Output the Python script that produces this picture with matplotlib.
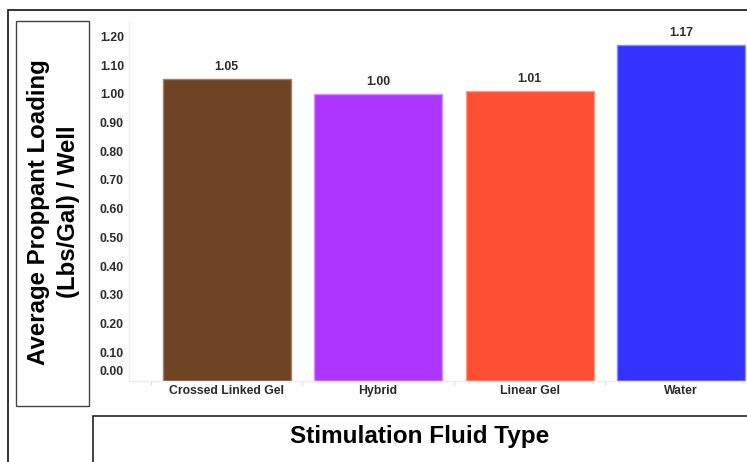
import matplotlib.pyplot as plt
from matplotlib.patches import Rectangle

fluids = ['Crossed Linked Gel', 'Hybrid', 'Linear Gel', 'Water']
loading = [1.05, 1.00, 1.01, 1.17]
colors = ['#6e4424', '#ae34ff', '#ff4f33', '#3333ff']
edges = ['#a88068', '#d490ff', '#ff9a88', '#8888ff']
yticks = [0.0, 0.1, 0.2, 0.3, 0.4, 0.5, 0.6, 0.7, 0.8, 0.9, 1.0, 1.1, 1.2]

plt.rcParams['font.family'] = ['Liberation Sans', 'DejaVu Sans']

W, H = 747, 462
fig = plt.figure(figsize=(W / 100, H / 100), dpi=100)


def px(x0, y0, x1, y1):
    # pixel box (top-left origin) -> figure fraction rect
    return [x0 / W, 1 - y1 / H, (x1 - x0) / W, (y1 - y0) / H]


ax = fig.add_axes(px(129, 22, 747, 381))
x = range(len(fluids))
ax.bar(x, loading, width=0.845, color=colors, edgecolor=edges, linewidth=1)

for i, v in enumerate(loading):
    ax.annotate(f'{v:.2f}', xy=(i, v), xytext=(0, 8.6), textcoords='offset points',
                ha='center', va='center', fontsize=8.8, fontweight='bold', color='#2a2a2a')

ax.set_xlim(-0.645, 3.436)
ax.set_ylim(0, 1.25)

ax.set_yticks(yticks)
ax.set_yticklabels(['' if t == 0 else f'{t:.2f}' for t in yticks])
# zero label sits a little above the axis line
ax.annotate('0.00', xy=(0, 0), xycoords=('axes fraction', 'data'), xytext=(-3.6, 6.5),
            textcoords='offset points', ha='right', va='center',
            fontsize=8.8, fontweight='bold', color='#2a2a2a')
ax.tick_params(axis='y', length=0, pad=3.6, labelsize=8.8, labelcolor='#2a2a2a')
for lbl in ax.get_yticklabels():
    lbl.set_fontweight('bold')

ax.set_xticks(list(x))
ax.set_xticklabels(fluids, fontsize=8.8, fontweight='bold', color='#2a2a2a')
ax.tick_params(axis='x', which='major', length=0, pad=3.2)
ax.set_xticks([-0.5, 0.5, 1.5, 2.5], minor=True)
ax.tick_params(axis='x', which='minor', length=3, color='#e0e0e0', width=1)

for side in ['top', 'right']:
    ax.spines[side].set_visible(False)
for side in ['left', 'bottom']:
    ax.spines[side].set_color('#ececec')
    ax.spines[side].set_linewidth(1)

# frames around the chart and the axis titles
fig.patches.append(Rectangle((8 / W, -0.1), 1.2, 1.1 - 10 / H, transform=fig.transFigure,
                             fill=False, edgecolor='#222222', linewidth=1.3))
fig.patches.append(Rectangle(px(16, 21, 89, 406)[:2], 73 / W, 385 / H, transform=fig.transFigure,
                             fill=False, edgecolor='#444444', linewidth=1))
fig.patches.append(Rectangle((93 / W, -0.1), 1.2, 0.1 + 1 - 416 / H, transform=fig.transFigure,
                             fill=False, edgecolor='#222222', linewidth=1.2))

fig.text(53.5 / W, 1 - 212 / H, 'Average Proppant Loading\n(Lbs/Gal) / Well', rotation=90,
         ha='center', va='center', multialignment='center', fontsize=17.3,
         fontweight='bold', color='black', linespacing=1.4)
fig.text(420 / W, 1 - 437 / H, 'Stimulation Fluid Type', ha='center', va='center',
         fontsize=17.5, fontweight='bold', color='black')

fig.savefig('out.png', dpi=100)
